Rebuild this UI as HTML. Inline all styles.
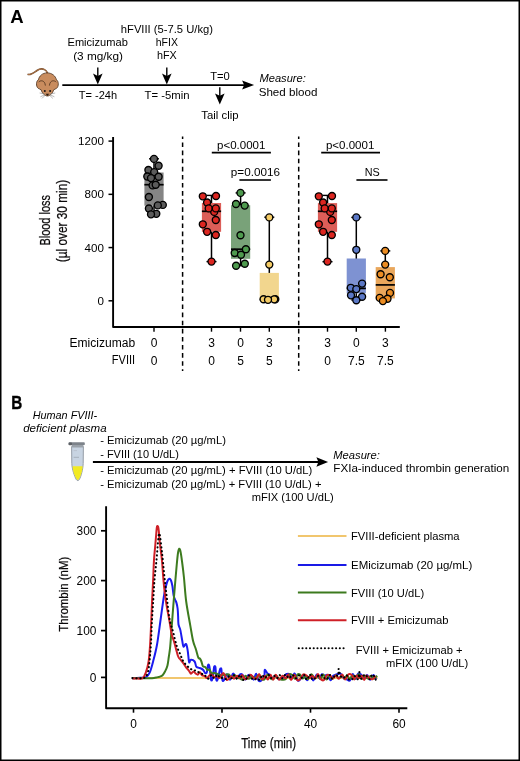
<!DOCTYPE html>
<html><head><meta charset="utf-8"><style>
html,body{margin:0;padding:0;background:#fff;}
body{width:520px;height:761px;overflow:hidden;}
svg{display:block;font-family:"Liberation Sans", sans-serif;will-change:transform;}
</style></head><body>
<svg width="520" height="761" viewBox="0 0 520 761">
<rect x="0" y="0" width="520" height="761" fill="#fff"/>
<text x="10.3" y="23.4" font-size="18.6" textLength="13.4" lengthAdjust="spacingAndGlyphs" font-weight="bold" fill="#000" >A</text>
<g>
<path d="M28.2,74.4 C31,75.2 34,72.5 37,70.5 C39.5,68.8 42.5,68.6 44.5,69.6 C46,70.3 46.8,71.4 47.4,72.9" fill="none" stroke="#6b4526" stroke-width="1.6" stroke-linecap="round"/>
<path d="M28.2,74.4 C31,75.2 34,72.5 37,70.5 C39.5,68.8 42.5,68.6 44.5,69.6 C46,70.3 46.8,71.4 47.4,72.9" fill="none" stroke="#c08050" stroke-width="0.8" stroke-linecap="round"/>
<path d="M47.2,72.9 C52,72.9 55.6,76 56.4,79.8 C58.7,80.8 59.1,86.4 56.6,88.3 C55.6,89 54.4,89.3 53.6,89.9 C52.8,93 50,96 47.4,96 C44.8,96 42,93 41.2,89.9 C40.4,89.3 39.2,89 38.2,88.3 C35.7,86.4 36.1,80.8 38.4,79.8 C39.2,76 42.4,72.9 47.2,72.9 Z" fill="#c98c5e" stroke="#4a2e1a" stroke-width="0.8"/>
<path d="M38.6,82.2 C40,80.2 44.8,79.6 45.4,85.6" fill="none" stroke="#4a2e1a" stroke-width="0.8"/>
<path d="M56.2,82.2 C54.8,80.2 50,79.6 49.4,85.6" fill="none" stroke="#4a2e1a" stroke-width="0.8"/>
<circle cx="44.8" cy="91.1" r="1.0" fill="#111"/>
<circle cx="50.1" cy="91.1" r="1.0" fill="#111"/>
<path d="M45.6,93.7 L49.2,93.7 L47.4,96.0 Z" fill="#2a1a10"/>
<g stroke="#8a8a8a" stroke-width="0.6" fill="none">
<path d="M45,94 L39.6,93"/><path d="M45,94.6 L40.4,96.8"/><path d="M45.4,95 L42,98.4"/>
<path d="M49.8,94 L55.2,93"/><path d="M49.8,94.6 L54.4,96.8"/><path d="M49.4,95 L52.8,98.4"/>
</g>
</g>
<line x1="62.3" y1="85.1" x2="248.1" y2="85.1" stroke="#000" stroke-width="1.7" />
<polygon points="242.1,80.6 244.1,85.1 242.1,89.6 254.1,85.1" fill="#000"/>
<line x1="97.8" y1="67.4" x2="97.8" y2="78.6" stroke="#000" stroke-width="1.4" />
<polygon points="93.0,73.6 97.8,76.0 102.6,73.6 97.8,84.6" fill="#000"/>
<line x1="166.8" y1="67.4" x2="166.8" y2="78.6" stroke="#000" stroke-width="1.4" />
<polygon points="162.0,73.6 166.8,76.0 171.60000000000002,73.6 166.8,84.6" fill="#000"/>
<line x1="219.8" y1="87.3" x2="219.8" y2="98.4" stroke="#000" stroke-width="1.4" />
<polygon points="215.0,93.4 219.8,95.80000000000001 224.60000000000002,93.4 219.8,104.4" fill="#000"/>
<text x="67.5" y="45.8" font-size="11" textLength="60.3" lengthAdjust="spacingAndGlyphs" >Emicizumab</text>
<text x="73.2" y="60.0" font-size="11" textLength="49.8" lengthAdjust="spacingAndGlyphs" >(3 mg/kg)</text>
<text x="120.8" y="32.5" font-size="11" textLength="92.2" lengthAdjust="spacingAndGlyphs" >hFVIII (5-7.5 U/kg)</text>
<text x="155.8" y="46.0" font-size="11" textLength="22.1" lengthAdjust="spacingAndGlyphs" >hFIX</text>
<text x="157.0" y="59.4" font-size="11" textLength="19.8" lengthAdjust="spacingAndGlyphs" >hFX</text>
<text x="78.8" y="99.3" font-size="11" textLength="38.3" lengthAdjust="spacingAndGlyphs" >T= -24h</text>
<text x="144.5" y="99.3" font-size="11" textLength="45.0" lengthAdjust="spacingAndGlyphs" >T= -5min</text>
<text x="210.2" y="79.5" font-size="11" textLength="19.6" lengthAdjust="spacingAndGlyphs" >T=0</text>
<text x="201.3" y="119.2" font-size="11" textLength="37.2" lengthAdjust="spacingAndGlyphs" >Tail clip</text>
<text x="259.5" y="81.5" font-size="11" textLength="46.3" lengthAdjust="spacingAndGlyphs" font-style="italic" >Measure:</text>
<text x="258.7" y="95.8" font-size="11" textLength="58.7" lengthAdjust="spacingAndGlyphs" >Shed blood</text>
<path d="M113.1,136.9 L113.1,326.95 L399.8,326.95" fill="none" stroke="#000" stroke-width="1.9" stroke-linejoin="round"/>
<line x1="108.5" y1="141.1" x2="113.0" y2="141.1" stroke="#000" stroke-width="1.5" />
<text x="103.9" y="145.25" font-size="11.6" text-anchor="end" >1200</text>
<line x1="108.5" y1="194.33333333333331" x2="113.0" y2="194.33333333333331" stroke="#000" stroke-width="1.5" />
<text x="103.9" y="198.48333333333332" font-size="11.6" text-anchor="end" >800</text>
<line x1="108.5" y1="247.56666666666666" x2="113.0" y2="247.56666666666666" stroke="#000" stroke-width="1.5" />
<text x="103.9" y="251.71666666666667" font-size="11.6" text-anchor="end" >400</text>
<line x1="108.5" y1="300.8" x2="113.0" y2="300.8" stroke="#000" stroke-width="1.5" />
<text x="103.9" y="304.95" font-size="11.6" text-anchor="end" >0</text>
<text x="50.5" y="220.3" font-size="13.8" textLength="50.6" lengthAdjust="spacingAndGlyphs" text-anchor="middle" transform="rotate(-90 50.5 220.3)" stroke="#231f20" stroke-width="0.25">Blood loss</text>
<text x="67.3" y="221.0" font-size="13.8" textLength="82.6" lengthAdjust="spacingAndGlyphs" text-anchor="middle" transform="rotate(-90 67.3 221.0)" stroke="#231f20" stroke-width="0.25">(µl over 30 min)</text>
<line x1="182.6" y1="136.6" x2="182.6" y2="371.0" stroke="#000" stroke-width="1.5" stroke-dasharray="4.6 3.5" stroke-dashoffset="2.2"/>
<line x1="298.7" y1="136.6" x2="298.7" y2="371.0" stroke="#000" stroke-width="1.5" stroke-dasharray="4.6 3.5" stroke-dashoffset="2.2"/>
<line x1="154.0" y1="327" x2="154.0" y2="331.7" stroke="#000" stroke-width="1.4" />
<line x1="211.5" y1="327" x2="211.5" y2="331.7" stroke="#000" stroke-width="1.4" />
<line x1="240.5" y1="327" x2="240.5" y2="331.7" stroke="#000" stroke-width="1.4" />
<line x1="269.3" y1="327" x2="269.3" y2="331.7" stroke="#000" stroke-width="1.4" />
<line x1="327.5" y1="327" x2="327.5" y2="331.7" stroke="#000" stroke-width="1.4" />
<line x1="356.3" y1="327" x2="356.3" y2="331.7" stroke="#000" stroke-width="1.4" />
<line x1="385.4" y1="327" x2="385.4" y2="331.7" stroke="#000" stroke-width="1.4" />
<text x="135.1" y="346.9" font-size="12" textLength="65.6" lengthAdjust="spacingAndGlyphs" text-anchor="end" >Emicizumab</text>
<text x="135.1" y="364.4" font-size="12" textLength="23.3" lengthAdjust="spacingAndGlyphs" text-anchor="end" >FVIII</text>
<text x="154.0" y="346.8" font-size="12" text-anchor="middle" >0</text>
<text x="154.0" y="364.8" font-size="12" text-anchor="middle" >0</text>
<text x="211.5" y="346.8" font-size="12" text-anchor="middle" >3</text>
<text x="211.5" y="364.8" font-size="12" text-anchor="middle" >0</text>
<text x="240.5" y="346.8" font-size="12" text-anchor="middle" >0</text>
<text x="240.5" y="364.8" font-size="12" text-anchor="middle" >5</text>
<text x="269.3" y="346.8" font-size="12" text-anchor="middle" >3</text>
<text x="269.3" y="364.8" font-size="12" text-anchor="middle" >5</text>
<text x="327.5" y="346.8" font-size="12" text-anchor="middle" >3</text>
<text x="327.5" y="364.8" font-size="12" text-anchor="middle" >0</text>
<text x="356.3" y="346.8" font-size="12" text-anchor="middle" >0</text>
<text x="356.3" y="364.8" font-size="12" text-anchor="middle" >7.5</text>
<text x="385.4" y="346.8" font-size="12" text-anchor="middle" >3</text>
<text x="385.4" y="364.8" font-size="12" text-anchor="middle" >7.5</text>
<text x="217.0" y="148.5" font-size="11" textLength="48.4" lengthAdjust="spacingAndGlyphs" >p&lt;0.0001</text>
<line x1="211.8" y1="152.6" x2="270.9" y2="152.6" stroke="#000" stroke-width="1.6" />
<text x="230.8" y="175.7" font-size="11" textLength="49.1" lengthAdjust="spacingAndGlyphs" >p=0.0016</text>
<line x1="239.4" y1="180.0" x2="270.9" y2="180.0" stroke="#000" stroke-width="1.6" />
<text x="325.9" y="148.5" font-size="11" textLength="48.5" lengthAdjust="spacingAndGlyphs" >p&lt;0.0001</text>
<line x1="321.2" y1="152.6" x2="380.0" y2="152.6" stroke="#000" stroke-width="1.6" />
<text x="364.8" y="175.7" font-size="11.2" textLength="15.0" lengthAdjust="spacingAndGlyphs" >NS</text>
<line x1="356.4" y1="180.0" x2="387.5" y2="180.0" stroke="#000" stroke-width="1.6" />
<line x1="154.0" y1="158.8" x2="154.0" y2="214.3" stroke="#000" stroke-width="1.5" />
<line x1="149.0" y1="158.8" x2="159.0" y2="158.8" stroke="#000" stroke-width="1.4" />
<line x1="149.0" y1="214.3" x2="159.0" y2="214.3" stroke="#000" stroke-width="1.4" />
<rect x="144.4" y="172.5" width="19.2" height="33.19999999999999" fill="#858585"/>
<line x1="144.4" y1="184.7" x2="163.6" y2="184.7" stroke="#000" stroke-width="1.7" />
<circle cx="154" cy="158.9" r="3.5" fill="#5b5b5b" stroke="#000" stroke-width="1.35"/>
<circle cx="158.6" cy="165.7" r="3.5" fill="#5b5b5b" stroke="#000" stroke-width="1.35"/>
<circle cx="148.4" cy="170" r="3.5" fill="#5b5b5b" stroke="#000" stroke-width="1.35"/>
<circle cx="154.2" cy="172.1" r="3.5" fill="#5b5b5b" stroke="#000" stroke-width="1.35"/>
<circle cx="147.3" cy="176.5" r="3.5" fill="#5b5b5b" stroke="#000" stroke-width="1.35"/>
<circle cx="151" cy="178.1" r="3.5" fill="#5b5b5b" stroke="#000" stroke-width="1.35"/>
<circle cx="158.6" cy="176.7" r="3.5" fill="#5b5b5b" stroke="#000" stroke-width="1.35"/>
<circle cx="152.6" cy="185.4" r="3.5" fill="#5b5b5b" stroke="#000" stroke-width="1.35"/>
<circle cx="155.7" cy="184.7" r="3.5" fill="#5b5b5b" stroke="#000" stroke-width="1.35"/>
<circle cx="148.9" cy="197" r="3.5" fill="#5b5b5b" stroke="#000" stroke-width="1.35"/>
<circle cx="162.8" cy="204.9" r="3.5" fill="#5b5b5b" stroke="#000" stroke-width="1.35"/>
<circle cx="157.8" cy="205.4" r="3.5" fill="#5b5b5b" stroke="#000" stroke-width="1.35"/>
<circle cx="148.9" cy="208.5" r="3.5" fill="#5b5b5b" stroke="#000" stroke-width="1.35"/>
<circle cx="156.3" cy="213.8" r="3.5" fill="#5b5b5b" stroke="#000" stroke-width="1.35"/>
<circle cx="151" cy="214.3" r="3.5" fill="#5b5b5b" stroke="#000" stroke-width="1.35"/>
<line x1="211.5" y1="195.4" x2="211.5" y2="261.6" stroke="#000" stroke-width="1.5" />
<line x1="206.5" y1="195.4" x2="216.5" y2="195.4" stroke="#000" stroke-width="1.4" />
<line x1="206.5" y1="261.6" x2="216.5" y2="261.6" stroke="#000" stroke-width="1.4" />
<rect x="201.9" y="203.0" width="19.2" height="28.80000000000001" fill="#dc5e58"/>
<line x1="201.9" y1="211.3" x2="221.1" y2="211.3" stroke="#000" stroke-width="1.7" />
<circle cx="202.8" cy="196.3" r="3.5" fill="#dc2620" stroke="#000" stroke-width="1.35"/>
<circle cx="216" cy="196" r="3.5" fill="#dc2620" stroke="#000" stroke-width="1.35"/>
<circle cx="207.1" cy="202.5" r="3.5" fill="#dc2620" stroke="#000" stroke-width="1.35"/>
<circle cx="214.2" cy="211.9" r="3.5" fill="#dc2620" stroke="#000" stroke-width="1.35"/>
<circle cx="208.7" cy="208.4" r="3.5" fill="#dc2620" stroke="#000" stroke-width="1.35"/>
<circle cx="215.8" cy="208.4" r="3.5" fill="#dc2620" stroke="#000" stroke-width="1.35"/>
<circle cx="215.8" cy="220" r="3.5" fill="#dc2620" stroke="#000" stroke-width="1.35"/>
<circle cx="202.8" cy="224.3" r="3.5" fill="#dc2620" stroke="#000" stroke-width="1.35"/>
<circle cx="207.1" cy="231.8" r="3.5" fill="#dc2620" stroke="#000" stroke-width="1.35"/>
<circle cx="215.8" cy="235" r="3.5" fill="#dc2620" stroke="#000" stroke-width="1.35"/>
<circle cx="211.5" cy="261.6" r="3.5" fill="#dc2620" stroke="#000" stroke-width="1.35"/>
<line x1="240.6" y1="192.9" x2="240.6" y2="265.7" stroke="#000" stroke-width="1.5" />
<line x1="235.6" y1="192.9" x2="245.6" y2="192.9" stroke="#000" stroke-width="1.4" />
<line x1="235.6" y1="265.7" x2="245.6" y2="265.7" stroke="#000" stroke-width="1.4" />
<rect x="231.0" y="205.2" width="19.2" height="53.60000000000002" fill="#79a279"/>
<line x1="231.0" y1="249.2" x2="250.2" y2="249.2" stroke="#000" stroke-width="1.7" />
<circle cx="240.5" cy="192.9" r="3.5" fill="#4e9a4e" stroke="#000" stroke-width="1.35"/>
<circle cx="236" cy="204" r="3.5" fill="#4e9a4e" stroke="#000" stroke-width="1.35"/>
<circle cx="244.7" cy="205.6" r="3.5" fill="#4e9a4e" stroke="#000" stroke-width="1.35"/>
<circle cx="240.5" cy="235.2" r="3.5" fill="#4e9a4e" stroke="#000" stroke-width="1.35"/>
<circle cx="245.9" cy="249.2" r="3.5" fill="#4e9a4e" stroke="#000" stroke-width="1.35"/>
<circle cx="234.7" cy="253" r="3.5" fill="#4e9a4e" stroke="#000" stroke-width="1.35"/>
<circle cx="241" cy="254.7" r="3.5" fill="#4e9a4e" stroke="#000" stroke-width="1.35"/>
<circle cx="244.8" cy="263.7" r="3.5" fill="#4e9a4e" stroke="#000" stroke-width="1.35"/>
<circle cx="236.1" cy="265.7" r="3.5" fill="#4e9a4e" stroke="#000" stroke-width="1.35"/>
<line x1="269.3" y1="217.2" x2="269.3" y2="299.5" stroke="#000" stroke-width="1.5" />
<line x1="264.3" y1="217.2" x2="274.3" y2="217.2" stroke="#000" stroke-width="1.4" />
<rect x="259.7" y="272.9" width="19.2" height="26.600000000000023" fill="#f2d68e"/>
<line x1="259.7" y1="299.5" x2="278.9" y2="299.5" stroke="#000" stroke-width="1.7" />
<circle cx="269.3" cy="217.4" r="3.5" fill="#f5cc66" stroke="#000" stroke-width="1.35"/>
<circle cx="269.3" cy="264.6" r="3.5" fill="#f5cc66" stroke="#000" stroke-width="1.35"/>
<circle cx="263.6" cy="299.2" r="3.5" fill="#f5cc66" stroke="#000" stroke-width="1.35"/>
<circle cx="275.3" cy="299.2" r="3.5" fill="#f5cc66" stroke="#000" stroke-width="1.35"/>
<circle cx="274.2" cy="299.3" r="3.5" fill="#f5cc66" stroke="#000" stroke-width="1.35"/>
<circle cx="268.0" cy="299.8" r="3.5" fill="#f5cc66" stroke="#000" stroke-width="1.35"/>
<line x1="327.5" y1="195.4" x2="327.5" y2="261.7" stroke="#000" stroke-width="1.5" />
<line x1="322.5" y1="195.4" x2="332.5" y2="195.4" stroke="#000" stroke-width="1.4" />
<line x1="322.5" y1="261.7" x2="332.5" y2="261.7" stroke="#000" stroke-width="1.4" />
<rect x="317.9" y="203.1" width="19.2" height="28.700000000000017" fill="#dc5e58"/>
<line x1="317.9" y1="211.3" x2="337.09999999999997" y2="211.3" stroke="#000" stroke-width="1.7" />
<circle cx="318.8" cy="196.3" r="3.5" fill="#dc2620" stroke="#000" stroke-width="1.35"/>
<circle cx="332.0" cy="196" r="3.5" fill="#dc2620" stroke="#000" stroke-width="1.35"/>
<circle cx="323.1" cy="202.5" r="3.5" fill="#dc2620" stroke="#000" stroke-width="1.35"/>
<circle cx="330.2" cy="211.9" r="3.5" fill="#dc2620" stroke="#000" stroke-width="1.35"/>
<circle cx="324.7" cy="208.4" r="3.5" fill="#dc2620" stroke="#000" stroke-width="1.35"/>
<circle cx="331.8" cy="208.4" r="3.5" fill="#dc2620" stroke="#000" stroke-width="1.35"/>
<circle cx="331.8" cy="220" r="3.5" fill="#dc2620" stroke="#000" stroke-width="1.35"/>
<circle cx="318.8" cy="224.3" r="3.5" fill="#dc2620" stroke="#000" stroke-width="1.35"/>
<circle cx="323.1" cy="231.8" r="3.5" fill="#dc2620" stroke="#000" stroke-width="1.35"/>
<circle cx="331.8" cy="235" r="3.5" fill="#dc2620" stroke="#000" stroke-width="1.35"/>
<circle cx="327.5" cy="261.6" r="3.5" fill="#dc2620" stroke="#000" stroke-width="1.35"/>
<line x1="356.3" y1="217.4" x2="356.3" y2="300.0" stroke="#000" stroke-width="1.5" />
<line x1="351.3" y1="217.4" x2="361.3" y2="217.4" stroke="#000" stroke-width="1.4" />
<line x1="351.3" y1="300.0" x2="361.3" y2="300.0" stroke="#000" stroke-width="1.4" />
<rect x="346.7" y="258.5" width="19.2" height="34.80000000000001" fill="#7e92d2"/>
<line x1="346.7" y1="288.4" x2="365.9" y2="288.4" stroke="#000" stroke-width="1.7" />
<circle cx="356.3" cy="217.4" r="3.5" fill="#5b78c6" stroke="#000" stroke-width="1.35"/>
<circle cx="356.3" cy="249.8" r="3.5" fill="#5b78c6" stroke="#000" stroke-width="1.35"/>
<circle cx="362.1" cy="283.6" r="3.5" fill="#5b78c6" stroke="#000" stroke-width="1.35"/>
<circle cx="350.8" cy="287.8" r="3.5" fill="#5b78c6" stroke="#000" stroke-width="1.35"/>
<circle cx="356.3" cy="289.1" r="3.5" fill="#5b78c6" stroke="#000" stroke-width="1.35"/>
<circle cx="351" cy="295.3" r="3.5" fill="#5b78c6" stroke="#000" stroke-width="1.35"/>
<circle cx="362.1" cy="296.7" r="3.5" fill="#5b78c6" stroke="#000" stroke-width="1.35"/>
<circle cx="356.3" cy="300.2" r="3.5" fill="#5b78c6" stroke="#000" stroke-width="1.35"/>
<line x1="385.3" y1="250.9" x2="385.3" y2="301.0" stroke="#000" stroke-width="1.5" />
<line x1="380.3" y1="250.9" x2="390.3" y2="250.9" stroke="#000" stroke-width="1.4" />
<line x1="380.3" y1="301.0" x2="390.3" y2="301.0" stroke="#000" stroke-width="1.4" />
<rect x="375.7" y="267.1" width="19.2" height="31.299999999999955" fill="#e9a75c"/>
<line x1="375.7" y1="284.9" x2="394.9" y2="284.9" stroke="#000" stroke-width="1.7" />
<circle cx="385.2" cy="250.9" r="3.5" fill="#eb8c22" stroke="#000" stroke-width="1.35"/>
<circle cx="385.2" cy="264.6" r="3.5" fill="#eb8c22" stroke="#000" stroke-width="1.35"/>
<circle cx="380.6" cy="274.2" r="3.5" fill="#eb8c22" stroke="#000" stroke-width="1.35"/>
<circle cx="389.8" cy="277.2" r="3.5" fill="#eb8c22" stroke="#000" stroke-width="1.35"/>
<circle cx="390" cy="292.9" r="3.5" fill="#eb8c22" stroke="#000" stroke-width="1.35"/>
<circle cx="379.7" cy="297.9" r="3.5" fill="#eb8c22" stroke="#000" stroke-width="1.35"/>
<circle cx="387.5" cy="298.7" r="3.5" fill="#eb8c22" stroke="#000" stroke-width="1.35"/>
<circle cx="382.9" cy="301.1" r="3.5" fill="#eb8c22" stroke="#000" stroke-width="1.35"/>
<text x="11.2" y="408.8" font-size="17.8" textLength="11.0" lengthAdjust="spacingAndGlyphs" font-weight="bold" fill="#000" stroke="#000" stroke-width="0.35">B</text>
<text x="32.7" y="418.6" font-size="11" textLength="64.5" lengthAdjust="spacingAndGlyphs" font-style="italic" >Human FVIII-</text>
<text x="23.2" y="432.2" font-size="11" textLength="83.5" lengthAdjust="spacingAndGlyphs" font-style="italic" >deficient plasma</text>
<g>
<path d="M71.6,446.5 L83.4,446.5 L83.2,463.5 C83,469.5 81,476.5 79.4,479.4 C78.6,480.9 77,480.9 76.2,479.4 C74.6,476.5 72,469.5 71.8,463.5 Z" fill="#c8d4e2" stroke="#8c949e" stroke-width="0.9"/>
<path d="M72.6,466.2 L82.6,466.2 C82.3,471.5 80.6,476.6 79.0,479.1 C78.3,480.3 77.3,480.3 76.6,479.1 C75,476.6 72.9,471.5 72.6,466.2 Z" fill="#f2ea22"/>
<path d="M71.6,444.8 L83.6,444.8 L83,447.4 L72.2,447.4 Z" fill="#9aa1a9"/>
<rect x="68.6" y="442.2" width="16.2" height="2.9" rx="0.9" fill="#7d838a"/>
<rect x="68.6" y="442.6" width="3.4" height="2.6" rx="0.9" fill="#5d6166"/>
<line x1="73.6" y1="457.3" x2="79" y2="457.3" stroke="#8f97a1" stroke-width="0.6"/>
<line x1="73.6" y1="450.6" x2="77" y2="450.6" stroke="#aab2bc" stroke-width="0.5"/>
</g>
<line x1="92.9" y1="462.0" x2="322.1" y2="462.0" stroke="#000" stroke-width="2.0" />
<polygon points="316.40000000000003,457.35 318.40000000000003,462.0 316.40000000000003,466.65 328.1,462.0" fill="#000"/>
<text x="100.2" y="444.0" font-size="11" textLength="125.8" lengthAdjust="spacingAndGlyphs" >- Emicizumab (20 µg/mL)</text>
<text x="100.2" y="457.7" font-size="11" textLength="78.7" lengthAdjust="spacingAndGlyphs" >- FVIII (10 U/dL)</text>
<text x="100.2" y="474.4" font-size="11" textLength="212.1" lengthAdjust="spacingAndGlyphs" >- Emicizumab (20 µg/mL) + FVIII (10 U/dL)</text>
<text x="100.2" y="487.9" font-size="11" textLength="221.3" lengthAdjust="spacingAndGlyphs" >- Emicizumab (20 µg/mL) + FVIII (10 U/dL) +</text>
<text x="251.7" y="500.9" font-size="11" textLength="82.1" lengthAdjust="spacingAndGlyphs" >mFIX (100 U/dL)</text>
<text x="333.3" y="458.9" font-size="11" textLength="46.6" lengthAdjust="spacingAndGlyphs" font-style="italic" >Measure:</text>
<text x="333.3" y="471.9" font-size="11" textLength="175.9" lengthAdjust="spacingAndGlyphs" >FXIa-induced thrombin generation</text>
<path d="M106.1,506.2 L106.1,708.2 L407.3,708.2" fill="none" stroke="#000" stroke-width="1.9" stroke-linejoin="round"/>
<line x1="101.0" y1="530.8" x2="106.2" y2="530.8" stroke="#000" stroke-width="1.7" />
<text x="96.4" y="535.0" font-size="11.9" text-anchor="end" >300</text>
<line x1="101.0" y1="580.6" x2="106.2" y2="580.6" stroke="#000" stroke-width="1.7" />
<text x="96.4" y="584.8000000000001" font-size="11.9" text-anchor="end" >200</text>
<line x1="101.0" y1="630.6" x2="106.2" y2="630.6" stroke="#000" stroke-width="1.7" />
<text x="96.4" y="634.8000000000001" font-size="11.9" text-anchor="end" >100</text>
<line x1="101.0" y1="677.4" x2="106.2" y2="677.4" stroke="#000" stroke-width="1.7" />
<text x="96.4" y="681.6" font-size="11.9" text-anchor="end" >0</text>
<line x1="133.5" y1="708.2" x2="133.5" y2="712.7" stroke="#000" stroke-width="1.6" />
<text x="133.5" y="728.1" font-size="11.9" text-anchor="middle" >0</text>
<line x1="222.0" y1="708.2" x2="222.0" y2="712.7" stroke="#000" stroke-width="1.6" />
<text x="222.0" y="728.1" font-size="11.9" text-anchor="middle" >20</text>
<line x1="310.5" y1="708.2" x2="310.5" y2="712.7" stroke="#000" stroke-width="1.6" />
<text x="310.5" y="728.1" font-size="11.9" text-anchor="middle" >40</text>
<line x1="399.0" y1="708.2" x2="399.0" y2="712.7" stroke="#000" stroke-width="1.6" />
<text x="399.0" y="728.1" font-size="11.9" text-anchor="middle" >60</text>
<text x="268.7" y="747.5" font-size="13.8" textLength="55.0" lengthAdjust="spacingAndGlyphs" text-anchor="middle" stroke="#231f20" stroke-width="0.25">Time (min)</text>
<text x="67.8" y="594.2" font-size="13.4" textLength="75.0" lengthAdjust="spacingAndGlyphs" text-anchor="middle" transform="rotate(-90 67.8 594.2)" stroke="#231f20" stroke-width="0.25">Thrombin (nM)</text>
<line x1="297.9" y1="536.1" x2="346.5" y2="536.1" stroke="#f1c66e" stroke-width="2.0" />
<text x="351.0" y="540.3000000000001" font-size="11" textLength="108.6" lengthAdjust="spacingAndGlyphs" >FVIII-deficient plasma</text>
<line x1="297.9" y1="564.9" x2="346.5" y2="564.9" stroke="#1a1ae6" stroke-width="2.0" />
<text x="351.0" y="569.1" font-size="11" textLength="121.3" lengthAdjust="spacingAndGlyphs" >EMicizumab (20 µg/mL)</text>
<line x1="297.9" y1="592.6" x2="346.5" y2="592.6" stroke="#3c7a1e" stroke-width="2.0" />
<text x="351.0" y="596.8000000000001" font-size="11" textLength="73.1" lengthAdjust="spacingAndGlyphs" >FVIII (10 U/dL)</text>
<line x1="297.9" y1="620.2" x2="346.5" y2="620.2" stroke="#cf2027" stroke-width="2.0" />
<text x="351.0" y="624.4000000000001" font-size="11" textLength="97.5" lengthAdjust="spacingAndGlyphs" >FVIII + Emicizumab</text>
<line x1="298.8" y1="648.3" x2="344.2" y2="648.3" stroke="#000" stroke-width="2.1" stroke-dasharray="0.01 3.72" stroke-linecap="round"/>
<text x="355.8" y="653.7" font-size="11" textLength="106.7" lengthAdjust="spacingAndGlyphs" >FVIII + Emicizumab +</text>
<text x="385.9" y="667.3" font-size="11" textLength="82.4" lengthAdjust="spacingAndGlyphs" >mFIX (100 U/dL)</text>
<line x1="132.5" y1="678.0" x2="377.7" y2="678.0" stroke="#f1c66e" stroke-width="2.0" />
<path d="M132.30,678.30 C133.58,678.22 137.75,677.97 140.00,677.80 C142.25,677.63 144.18,678.17 145.80,677.30 C147.42,676.43 148.48,675.23 149.70,672.60 C150.92,669.97 151.88,666.15 153.10,661.50 C154.32,656.85 155.78,651.45 157.00,644.70 C158.22,637.95 159.53,627.12 160.40,621.00 C161.27,614.88 161.63,612.00 162.20,608.00 C162.77,604.00 163.25,600.33 163.80,597.00 C164.35,593.67 164.92,590.58 165.50,588.00 C166.08,585.42 166.67,583.03 167.30,581.50 C167.93,579.97 168.68,578.97 169.30,578.80 C169.92,578.63 170.48,579.30 171.00,580.50 C171.52,581.70 171.97,583.52 172.40,586.00 C172.83,588.48 173.17,593.15 173.60,595.40 C174.03,597.65 174.53,598.30 175.00,599.50 C175.47,600.70 175.97,601.10 176.40,602.60 C176.83,604.10 177.32,606.27 177.60,608.50 C177.88,610.73 177.95,613.33 178.10,616.00 C178.25,618.67 178.13,622.18 178.50,624.50 C178.87,626.82 179.67,627.15 180.30,629.90 C180.93,632.65 181.77,638.22 182.30,641.00 C182.83,643.78 182.87,646.10 183.50,646.60 C184.13,647.10 185.38,643.22 186.10,644.00 C186.82,644.78 187.30,648.27 187.80,651.30 C188.30,654.33 188.60,660.78 189.10,662.20 C189.60,663.62 189.88,659.92 190.80,659.80 C191.72,659.68 193.70,660.38 194.60,661.50 C195.50,662.62 195.58,665.47 196.20,666.50 C196.82,667.53 197.50,667.37 198.30,667.70 C199.10,668.03 200.17,668.12 201.00,668.50 C201.83,668.88 202.60,669.23 203.30,670.00 C204.00,670.77 204.62,672.72 205.20,673.10 C205.78,673.48 206.37,673.48 206.80,672.30 C207.23,671.12 207.52,667.28 207.80,666.00 C208.08,664.72 208.25,664.60 208.50,664.60 C208.75,664.60 209.00,664.60 209.30,666.00 C209.60,667.40 210.02,670.73 210.30,673.00 C210.58,675.27 210.68,678.50 211.00,679.60 C211.32,680.70 211.80,680.82 212.20,679.60 C212.60,678.38 213.08,674.40 213.40,672.30 C213.72,670.20 213.87,667.97 214.10,667.00 C214.33,666.03 214.57,666.42 214.80,666.50 C215.03,666.58 215.25,665.32 215.50,667.50 C215.75,669.68 215.95,677.58 216.30,679.60 C216.65,681.62 217.13,680.68 217.60,679.60 C218.07,678.52 218.68,674.87 219.10,673.10 C219.52,671.33 219.83,669.77 220.10,669.00 C220.37,668.23 220.48,668.42 220.70,668.50 C220.92,668.58 221.12,667.58 221.40,669.50 C221.68,671.42 221.95,678.25 222.40,680.00 C222.85,681.75 223.50,680.77 224.10,680.00 C224.70,679.23 225.43,676.30 226.00,675.40 C226.57,674.50 226.83,673.89 227.50,674.60 C228.17,675.31 229.04,679.83 230.00,679.65 C230.96,679.47 232.14,673.79 233.24,673.55 C234.35,673.30 235.50,678.03 236.63,678.15 C237.77,678.28 239.07,674.85 240.05,674.28 C241.02,673.72 241.60,673.86 242.50,674.74 C243.40,675.61 244.53,679.45 245.45,679.53 C246.37,679.61 247.06,675.88 248.02,675.22 C248.98,674.55 250.28,674.78 251.23,675.52 C252.18,676.25 252.91,679.93 253.71,679.64 C254.51,679.34 255.22,673.57 256.03,673.72 C256.85,673.88 257.73,679.43 258.60,680.56 C259.47,681.69 260.30,681.36 261.26,680.50 C262.22,679.64 263.77,677.19 264.36,675.40 C264.95,673.62 264.28,670.12 264.80,669.80 C265.32,669.48 266.59,672.62 267.48,673.48 C268.38,674.35 269.29,674.22 270.15,675.01 C271.01,675.80 271.72,678.09 272.64,678.24 C273.56,678.39 274.70,675.81 275.66,675.91 C276.61,676.01 277.44,678.37 278.37,678.86 C279.30,679.36 280.25,679.39 281.25,678.88 C282.25,678.36 283.47,676.58 284.39,675.78 C285.30,674.97 285.95,674.34 286.73,674.03 C287.51,673.72 288.19,673.26 289.07,673.93 C289.96,674.61 291.15,678.17 292.07,678.10 C292.99,678.03 293.64,673.13 294.60,673.51 C295.55,673.90 296.81,679.51 297.79,680.42 C298.78,681.33 299.52,679.77 300.51,678.97 C301.50,678.18 302.65,675.44 303.73,675.65 C304.81,675.86 305.87,680.24 306.98,680.25 C308.09,680.25 309.32,675.67 310.39,675.69 C311.47,675.71 312.35,680.58 313.42,680.39 C314.49,680.20 315.80,674.86 316.81,674.55 C317.83,674.24 318.64,678.59 319.50,678.53 C320.36,678.47 321.16,674.64 321.99,674.18 C322.83,673.73 323.59,675.68 324.50,675.80 C325.41,675.92 326.45,674.17 327.44,674.90 C328.43,675.62 329.48,680.02 330.45,680.16 C331.42,680.31 332.40,676.69 333.26,675.78 C334.12,674.87 334.81,674.96 335.62,674.68 C336.42,674.39 337.17,674.20 338.09,674.08 C339.01,673.95 340.16,673.20 341.14,673.93 C342.12,674.66 343.05,677.57 343.96,678.46 C344.88,679.34 345.63,678.87 346.62,679.22 C347.62,679.57 348.90,681.40 349.93,680.54 C350.97,679.68 351.90,674.32 352.82,674.08 C353.74,673.84 354.57,679.21 355.48,679.10 C356.38,678.99 357.27,674.17 358.23,673.43 C359.20,672.69 360.37,673.77 361.28,674.66 C362.19,675.55 362.75,678.71 363.71,678.77 C364.66,678.82 365.94,674.83 367.03,675.01 C368.12,675.19 369.18,679.83 370.25,679.83 C371.32,679.83 372.48,675.09 373.45,675.00 C374.43,674.92 375.66,678.59 376.10,679.30" fill="none" stroke="#1b1bf0" stroke-width="2.0" stroke-linejoin="round"/>
<path d="M132.30,678.30 C134.42,678.30 141.72,678.32 145.00,678.30 C148.28,678.28 150.02,678.35 152.00,678.20 C153.98,678.05 155.57,677.67 156.90,677.40 C158.23,677.13 159.05,676.97 160.00,676.60 C160.95,676.23 161.77,676.05 162.60,675.20 C163.43,674.35 164.20,673.08 165.00,671.50 C165.80,669.92 166.77,668.12 167.40,665.70 C168.03,663.28 168.33,660.17 168.80,657.00 C169.27,653.83 169.70,651.92 170.20,646.70 C170.70,641.48 171.35,631.65 171.80,625.70 C172.25,619.75 172.53,615.78 172.90,611.00 C173.27,606.22 173.58,602.17 174.00,597.00 C174.42,591.83 174.93,585.50 175.40,580.00 C175.87,574.50 176.37,568.50 176.80,564.00 C177.23,559.50 177.60,555.53 178.00,553.00 C178.40,550.47 178.77,548.97 179.20,548.80 C179.63,548.63 180.12,549.80 180.60,552.00 C181.08,554.20 181.53,557.67 182.10,562.00 C182.67,566.33 183.32,571.42 184.00,578.00 C184.68,584.58 185.15,593.57 186.20,601.50 C187.25,609.43 189.15,619.02 190.30,625.60 C191.45,632.18 192.18,637.10 193.10,641.00 C194.02,644.90 194.93,646.22 195.80,649.00 C196.67,651.78 197.63,656.12 198.30,657.70 C198.97,659.28 199.28,657.87 199.80,658.50 C200.32,659.13 200.88,660.22 201.40,661.50 C201.92,662.78 202.27,665.30 202.90,666.20 C203.53,667.10 204.43,666.27 205.20,666.90 C205.97,667.53 206.78,669.55 207.50,670.00 C208.22,670.45 208.85,669.08 209.50,669.60 C210.15,670.12 210.63,672.52 211.40,673.10 C212.17,673.68 213.20,672.98 214.10,673.10 C215.00,673.22 215.97,673.55 216.80,673.80 C217.63,674.05 218.33,674.33 219.10,674.60 C219.87,674.87 220.58,675.33 221.40,675.40 C222.22,675.47 223.10,675.13 224.00,675.00 C224.90,674.87 225.95,674.67 226.80,674.60 C227.65,674.53 228.27,673.98 229.10,674.60 C229.93,675.22 230.89,678.24 231.80,678.31 C232.71,678.37 233.69,675.05 234.55,674.98 C235.41,674.90 236.11,677.31 236.95,677.87 C237.78,678.42 238.65,678.03 239.57,678.30 C240.48,678.57 241.44,679.89 242.43,679.48 C243.42,679.07 244.43,675.97 245.49,675.86 C246.56,675.76 247.75,678.84 248.82,678.87 C249.89,678.89 250.90,676.11 251.92,676.03 C252.94,675.96 253.87,678.56 254.92,678.43 C255.98,678.30 257.14,675.10 258.25,675.23 C259.36,675.37 260.57,678.54 261.59,679.24 C262.61,679.94 263.34,680.21 264.37,679.41 C265.40,678.61 266.79,674.63 267.77,674.44 C268.75,674.25 269.36,677.49 270.25,678.27 C271.13,679.04 272.12,679.55 273.07,679.07 C274.03,678.59 275.00,675.42 275.98,675.40 C276.97,675.39 277.96,678.28 278.98,678.99 C280.00,679.69 281.00,679.63 282.09,679.66 C283.19,679.69 284.43,680.05 285.56,679.16 C286.69,678.26 287.83,675.00 288.88,674.27 C289.93,673.54 290.82,673.98 291.86,674.76 C292.91,675.54 294.20,679.01 295.15,678.96 C296.09,678.92 296.74,675.22 297.54,674.49 C298.34,673.76 299.14,673.94 299.96,674.59 C300.78,675.25 301.49,678.17 302.46,678.42 C303.43,678.66 304.84,675.93 305.79,676.07 C306.74,676.21 307.21,679.55 308.16,679.25 C309.11,678.94 310.37,674.37 311.50,674.24 C312.64,674.10 313.90,678.14 314.98,678.45 C316.06,678.76 317.03,676.00 318.00,676.10 C318.97,676.20 319.93,679.31 320.79,679.04 C321.65,678.76 322.19,674.37 323.16,674.46 C324.13,674.55 325.54,679.48 326.59,679.60 C327.64,679.71 328.47,675.25 329.45,675.14 C330.42,675.03 331.39,678.93 332.46,678.94 C333.53,678.94 334.77,675.27 335.87,675.17 C336.96,675.06 337.92,678.31 339.02,678.31 C340.13,678.30 341.51,675.08 342.48,675.14 C343.44,675.20 344.03,678.68 344.81,678.65 C345.59,678.62 346.37,674.88 347.15,674.95 C347.94,675.02 348.63,678.98 349.54,679.07 C350.46,679.16 351.60,675.67 352.65,675.47 C353.70,675.27 354.78,678.08 355.83,677.88 C356.87,677.68 357.94,674.09 358.93,674.27 C359.92,674.46 360.85,678.79 361.78,679.00 C362.71,679.21 363.56,675.64 364.52,675.55 C365.48,675.45 366.50,678.34 367.53,678.43 C368.57,678.52 369.69,676.10 370.75,676.11 C371.82,676.11 372.85,678.52 373.92,678.45 C374.99,678.38 376.63,676.15 377.18,675.69" fill="none" stroke="#3d7b1f" stroke-width="2.0" stroke-linejoin="round"/>
<path d="M132.30,678.40 C133.25,678.43 136.30,678.62 138.00,678.60 C139.70,678.58 141.20,679.30 142.50,678.30 C143.80,677.30 144.78,675.40 145.80,672.60 C146.82,669.80 147.88,666.15 148.60,661.50 C149.32,656.85 149.67,651.23 150.10,644.70 C150.53,638.17 150.87,629.75 151.20,622.30 C151.53,614.85 151.78,606.88 152.10,600.00 C152.42,593.12 152.78,587.67 153.10,581.00 C153.42,574.33 153.63,566.00 154.00,560.00 C154.37,554.00 154.92,549.50 155.30,545.00 C155.68,540.50 156.02,536.07 156.30,533.00 C156.58,529.93 156.70,527.67 157.00,526.60 C157.30,525.53 157.80,525.87 158.10,526.60 C158.40,527.33 158.55,528.60 158.80,531.00 C159.05,533.40 159.08,536.17 159.60,541.00 C160.12,545.83 161.28,553.83 161.90,560.00 C162.52,566.17 162.85,572.77 163.30,578.00 C163.75,583.23 164.03,586.73 164.60,591.40 C165.17,596.07 165.92,601.23 166.70,606.00 C167.48,610.77 168.47,615.30 169.30,620.00 C170.13,624.70 170.87,630.45 171.70,634.20 C172.53,637.95 173.25,638.87 174.30,642.50 C175.35,646.13 176.97,653.15 178.00,656.00 C179.03,658.85 179.58,658.35 180.50,659.60 C181.42,660.85 182.63,662.28 183.50,663.50 C184.37,664.72 184.78,665.68 185.70,666.90 C186.62,668.12 188.12,669.67 189.00,670.80 C189.88,671.93 190.27,673.58 191.00,673.70 C191.73,673.82 192.57,671.48 193.40,671.50 C194.23,671.52 195.25,673.28 196.00,673.80 C196.75,674.32 197.27,674.85 197.90,674.60 C198.53,674.35 199.08,672.17 199.80,672.30 C200.52,672.43 201.42,674.82 202.20,675.40 C202.98,675.98 203.73,675.35 204.50,675.80 C205.27,676.25 206.10,678.03 206.80,678.10 C207.50,678.17 208.07,676.78 208.70,676.20 C209.33,675.62 209.97,674.73 210.60,674.60 C211.23,674.47 211.85,675.02 212.50,675.40 C213.15,675.78 213.78,676.77 214.50,676.90 C215.22,677.03 216.03,676.00 216.80,676.20 C217.57,676.40 218.47,678.10 219.10,678.10 C219.73,678.10 219.90,677.03 220.60,676.20 C221.30,675.37 222.53,673.10 223.30,673.10 C224.07,673.10 224.62,675.05 225.20,676.20 C225.78,677.35 226.15,679.62 226.80,680.00 C227.45,680.38 228.33,679.13 229.10,678.50 C229.87,677.87 230.58,676.16 231.40,676.20 C232.22,676.24 233.05,678.80 234.00,678.74 C234.95,678.68 236.11,675.95 237.08,675.84 C238.04,675.74 238.97,678.26 239.82,678.12 C240.67,677.98 241.38,674.87 242.18,675.01 C242.98,675.15 243.79,678.39 244.61,678.97 C245.42,679.55 246.09,679.22 247.07,678.51 C248.05,677.79 249.35,674.74 250.49,674.68 C251.64,674.61 252.93,677.49 253.94,678.10 C254.96,678.71 255.71,678.99 256.60,678.32 C257.49,677.66 258.33,673.93 259.28,674.12 C260.22,674.32 261.28,679.18 262.27,679.47 C263.26,679.76 264.31,675.85 265.23,675.86 C266.15,675.88 266.91,679.76 267.79,679.56 C268.66,679.36 269.58,674.61 270.47,674.66 C271.36,674.70 272.26,679.82 273.14,679.83 C274.02,679.83 274.75,674.71 275.74,674.68 C276.73,674.66 277.94,679.50 279.08,679.68 C280.21,679.85 281.42,675.96 282.53,675.74 C283.64,675.51 284.80,678.55 285.73,678.34 C286.66,678.13 287.21,674.19 288.10,674.47 C288.99,674.74 290.06,679.98 291.08,680.01 C292.10,680.04 293.21,674.65 294.21,674.64 C295.20,674.62 296.10,679.12 297.06,679.93 C298.01,680.74 298.93,680.43 299.93,679.52 C300.93,678.62 301.99,675.21 303.06,674.52 C304.13,673.82 305.27,674.76 306.33,675.35 C307.40,675.94 308.50,677.98 309.43,678.04 C310.37,678.11 310.99,675.70 311.95,675.74 C312.90,675.78 314.16,678.58 315.16,678.29 C316.15,678.00 316.99,673.84 317.93,674.00 C318.87,674.16 319.75,678.26 320.77,679.26 C321.79,680.26 323.03,680.67 324.04,679.99 C325.05,679.31 325.80,675.90 326.84,675.18 C327.88,674.46 329.27,675.10 330.27,675.66 C331.28,676.22 331.93,678.57 332.86,678.53 C333.80,678.49 334.90,675.35 335.87,675.40 C336.83,675.46 337.63,679.01 338.67,678.84 C339.71,678.68 341.02,674.30 342.10,674.41 C343.18,674.53 344.07,679.59 345.13,679.55 C346.20,679.52 347.40,674.95 348.50,674.21 C349.60,673.47 350.80,674.23 351.74,675.10 C352.69,675.98 353.38,679.38 354.18,679.46 C354.99,679.53 355.73,675.75 356.58,675.53 C357.43,675.30 358.43,678.07 359.30,678.11 C360.16,678.15 360.98,675.46 361.79,675.78 C362.60,676.09 363.33,680.07 364.14,680.01 C364.95,679.95 365.76,675.72 366.63,675.43 C367.51,675.14 368.34,677.67 369.38,678.27 C370.41,678.88 371.87,679.48 372.85,679.07 C373.83,678.65 374.86,676.32 375.27,675.77" fill="none" stroke="#cf2027" stroke-width="2.0" stroke-linejoin="round"/>
<path d="M132.30,678.00 C133.58,678.05 137.97,678.33 140.00,678.30 C142.03,678.27 143.20,678.75 144.50,677.80 C145.80,676.85 146.97,675.40 147.80,672.60 C148.63,669.80 148.98,665.65 149.50,661.00 C150.02,656.35 150.50,651.20 150.90,644.70 C151.30,638.20 151.50,629.45 151.90,622.00 C152.30,614.55 152.87,607.00 153.30,600.00 C153.73,593.00 153.97,586.67 154.50,580.00 C155.03,573.33 155.92,566.33 156.50,560.00 C157.08,553.67 157.60,546.37 158.00,542.00 C158.40,537.63 158.57,534.80 158.90,533.80 C159.23,532.80 159.57,533.63 160.00,536.00 C160.43,538.37 161.03,544.00 161.50,548.00 C161.97,552.00 162.25,554.67 162.80,560.00 C163.35,565.33 164.08,573.33 164.80,580.00 C165.52,586.67 166.28,593.33 167.10,600.00 C167.92,606.67 168.68,614.62 169.70,620.00 C170.72,625.38 172.03,628.00 173.20,632.30 C174.37,636.60 175.52,642.12 176.70,645.80 C177.88,649.48 179.12,651.68 180.30,654.40 C181.48,657.12 182.10,659.70 183.80,662.10 C185.50,664.50 188.50,667.35 190.50,668.80 C192.50,670.25 194.22,670.10 195.80,670.80 C197.38,671.50 198.47,672.22 200.00,673.00 C201.53,673.78 203.67,674.55 205.00,675.50 C206.33,676.45 206.93,678.77 208.00,678.73 C209.07,678.68 210.33,675.33 211.39,675.25 C212.46,675.16 213.38,678.31 214.39,678.20 C215.40,678.10 216.49,674.64 217.44,674.61 C218.40,674.58 219.15,677.46 220.12,678.02 C221.08,678.57 222.15,677.74 223.24,677.92 C224.33,678.11 225.69,679.42 226.68,679.12 C227.67,678.82 228.37,676.28 229.18,676.13 C230.00,675.98 230.78,678.36 231.57,678.21 C232.36,678.07 232.98,675.14 233.93,675.25 C234.87,675.36 236.19,678.92 237.22,678.86 C238.26,678.79 239.20,674.71 240.12,674.86 C241.05,675.02 241.78,679.07 242.77,679.80 C243.76,680.52 245.08,679.93 246.06,679.23 C247.04,678.53 247.68,675.69 248.65,675.59 C249.61,675.49 250.86,677.94 251.86,678.62 C252.85,679.31 253.78,679.78 254.62,679.72 C255.47,679.66 256.08,678.24 256.94,678.25 C257.81,678.26 258.93,680.32 259.81,679.76 C260.69,679.21 261.38,675.22 262.21,674.93 C263.05,674.63 263.84,678.05 264.85,678.01 C265.86,677.97 267.28,674.67 268.29,674.67 C269.29,674.68 269.92,677.85 270.89,678.04 C271.87,678.23 273.12,675.78 274.14,675.81 C275.15,675.84 276.09,678.37 276.98,678.21 C277.86,678.06 278.57,674.89 279.45,674.90 C280.33,674.91 281.21,678.31 282.26,678.26 C283.30,678.21 284.57,674.59 285.70,674.59 C286.83,674.58 287.94,678.20 289.05,678.25 C290.16,678.31 291.23,674.90 292.36,674.90 C293.49,674.90 294.71,678.16 295.83,678.26 C296.94,678.36 298.11,675.56 299.04,675.52 C299.98,675.48 300.61,678.11 301.45,678.02 C302.28,677.93 303.14,674.70 304.05,674.98 C304.96,675.27 305.92,679.81 306.90,679.72 C307.87,679.63 308.97,674.48 309.88,674.46 C310.80,674.45 311.53,679.00 312.38,679.62 C313.23,680.25 313.99,678.85 314.99,678.21 C315.99,677.57 317.28,676.31 318.40,675.77 C319.53,675.24 320.78,674.62 321.74,674.98 C322.71,675.33 323.35,677.21 324.19,677.92 C325.02,678.62 325.80,679.71 326.78,679.22 C327.76,678.73 329.09,674.99 330.06,674.99 C331.02,675.00 331.73,679.24 332.58,679.25 C333.43,679.26 334.23,675.67 335.17,675.06 C336.10,674.46 337.63,676.62 338.20,675.61 C338.77,674.60 338.17,668.91 338.60,669.00 C339.03,669.09 339.92,674.63 340.75,676.13 C341.59,677.62 342.66,678.14 343.59,677.96 C344.52,677.78 345.43,674.77 346.34,675.04 C347.25,675.31 348.11,678.89 349.08,679.59 C350.05,680.28 351.23,679.78 352.16,679.19 C353.09,678.61 353.67,676.09 354.64,676.09 C355.62,676.09 357.23,679.90 358.02,679.21 C358.81,678.53 359.01,672.02 359.40,672.00 C359.79,671.98 359.68,678.50 360.37,679.09 C361.05,679.68 362.60,676.20 363.53,675.53 C364.46,674.87 364.98,674.46 365.94,675.09 C366.90,675.71 368.20,679.41 369.30,679.28 C370.40,679.16 371.49,674.31 372.54,674.37 C373.60,674.42 375.14,678.73 375.66,679.61" fill="none" stroke="#000" stroke-width="2.0" stroke-dasharray="0.3 3.7" stroke-linecap="round"/>
<rect x="0.75" y="0.75" width="518.5" height="759.5" fill="none" stroke="#000" stroke-width="1.5"/>
</svg>
</body></html>
